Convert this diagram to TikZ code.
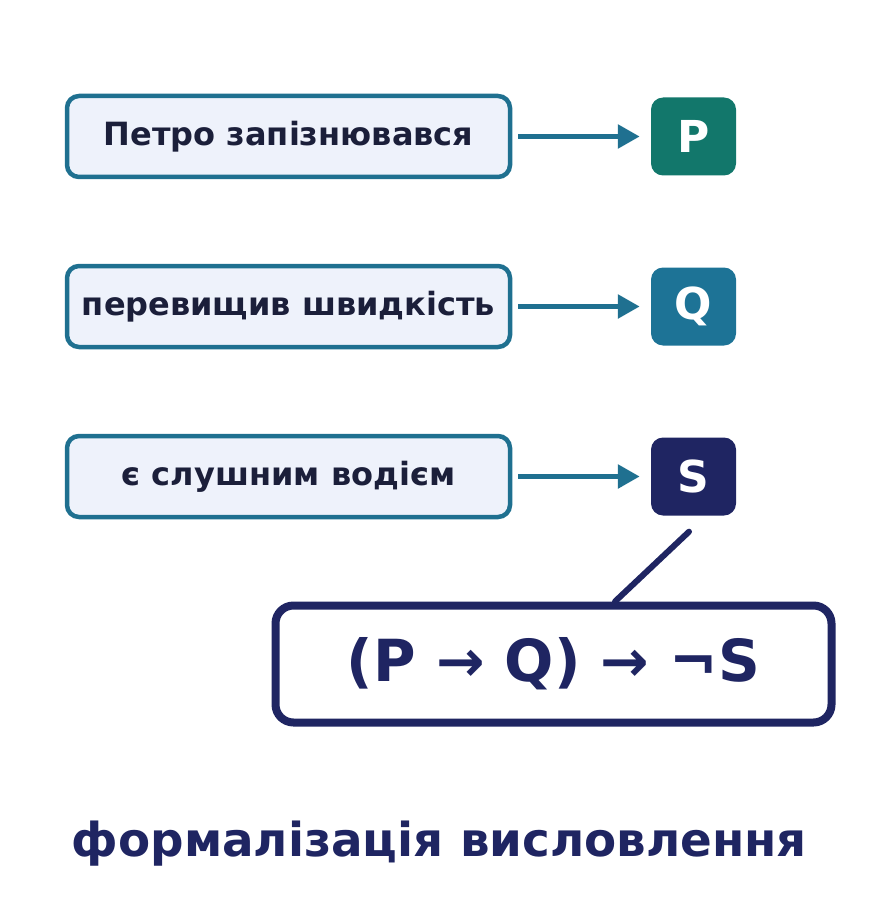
\documentclass[tikz,border=0pt]{standalone}
\usepackage{fontspec}
\setmainfont{DejaVu Sans}
\usetikzlibrary{arrows.meta}
\definecolor{rimblue}{HTML}{1F7090}
\definecolor{paleblue}{HTML}{EEF2FB}
\definecolor{inkdark}{HTML}{1B1F3A}
\definecolor{pgreen}{HTML}{12776B}
\definecolor{qblue}{HTML}{1D7396}
\definecolor{snavy}{HTML}{1F2562}
\tikzset{
  phrase/.style={draw=rimblue,line width=4.5pt,fill=paleblue,rounded corners=12pt,
    minimum width=443pt,minimum height=81pt,inner sep=0pt,text=inkdark,
    font=\fontsize{32}{38}\selectfont\bfseries},
  letter/.style={rounded corners=12pt,minimum width=85pt,minimum height=78pt,
    inner sep=0pt,text=white,font=\fontsize{44}{52}\selectfont\bfseries},
  link/.style={rimblue,line width=5.5pt,-{Triangle[length=22pt,width=23pt]},
    shorten <=6pt,shorten >=11pt},
  formula/.style={draw=snavy,line width=8pt,fill=white,rounded corners=18pt,
    minimum width=556pt,minimum height=117pt,inner sep=0pt,text=snavy,
    font=\fontsize{58}{66}\selectfont\bfseries},
  tie/.style={snavy,line width=6pt,line cap=round}
}
\begin{document}
\begin{tikzpicture}[x=1pt,y=-1pt]
\useasboundingbox (0,0) rectangle (879,904);
\foreach \n/\y/\t/\c/\l in {0/136.5/{Петро запізнювався}/pgreen/P,
  1/306.5/{перевищив швидкість}/qblue/Q,
  2/476.5/{є слушним водієм}/snavy/S} {
  \node[phrase] (T\n) at (288.5,\y) {\t};
  \node[letter,fill=\c] (L\n) at (693.5,\y) {\l};
  \draw[link] (T\n) -- (L\n);
}
\node[formula] (F) at (553.5,664) {(P → Q) → ¬S};
\draw[tie] ([xshift=-4.5pt,yshift=-16pt]L2.south) -- ([xshift=61.5pt]F.north);
\node[text=snavy,font=\fontsize{46.8}{54}\selectfont\bfseries] (title) at (439.5,844) {формалізація висловлення};
\end{tikzpicture}
\end{document}
